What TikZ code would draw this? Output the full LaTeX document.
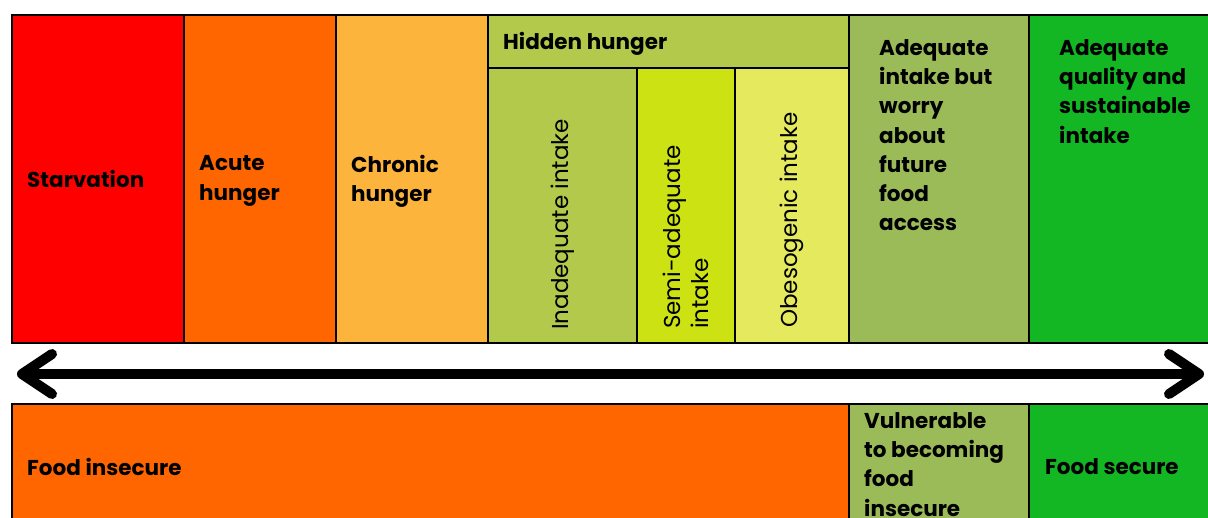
\documentclass[tikz,border=0pt]{standalone}
\usepackage{fontspec}
\setmainfont{Poppins}
\usetikzlibrary{arrows.meta,positioning}
\definecolor{starv}{HTML}{FF0000}
\definecolor{acute}{HTML}{FF6600}
\definecolor{chron}{HTML}{FDB43C}
\definecolor{hidden}{HTML}{B2C94B}
\definecolor{semi}{HTML}{CDE212}
\definecolor{obeso}{HTML}{E4E95E}
\definecolor{worry}{HTML}{9BBB59}
\definecolor{secure}{HTML}{12B723}

\begin{document}
\begin{tikzpicture}[x=1pt,y=-1pt]
\tikzstyle{cell} = [draw=black,line width=2pt,inner sep=0pt,outer sep=0pt,minimum height=328pt]
\tikzstyle{txt} = [font=\bfseries\fontsize{21.5}{29.3}\selectfont,align=left,inner sep=0pt]
\tikzstyle{vtxt} = [font=\fontsize{23}{28}\selectfont,rotate=90,align=left,inner sep=0pt,anchor=west]
\tikzstyle{scalearrow} = [line width=10pt,{Straight Barb[length=30pt,width=40pt,round]}-{Straight Barb[length=30pt,width=40pt,round]}]

\clip (0,0) rectangle (1208,517);
\fill[white] (0,0) rectangle (1208,517);

\node[cell,fill=starv,minimum width=172pt,anchor=north west] (c1) at (12,15) {};
\node[cell,fill=acute,minimum width=152pt,right=0pt of c1] (c2) {};
\node[cell,fill=chron,minimum width=152pt,right=0pt of c2] (c3) {};
\node[cell,fill=hidden,minimum width=361pt,minimum height=53pt,anchor=north west] (hh) at (c3.north east) {};
\node[cell,fill=hidden,minimum width=149pt,minimum height=275pt,anchor=north west] (c4) at (hh.south west) {};
\node[cell,fill=semi,minimum width=98pt,minimum height=275pt,right=0pt of c4] (c5) {};
\node[cell,fill=obeso,minimum width=114pt,minimum height=275pt,right=0pt of c5] (c6) {};
\node[cell,fill=worry,minimum width=180pt,anchor=north west] (c7) at (hh.north east) {};
\node[cell,fill=secure,minimum width=200pt,right=0pt of c7] (c8) {};

\node[txt,anchor=west] (starvation) at ([xshift=15pt]c1.west) {Starvation};
\node[txt,anchor=west] (acutehunger) at ([xshift=15pt,yshift=-2pt]c2.west) {Acute\\hunger};
\node[txt,anchor=west] (chronichunger) at ([xshift=15pt,yshift=-2pt]c3.west) {Chronic\\hunger};
\node[txt,anchor=west] (hiddenhunger) at ([xshift=15pt,yshift=-2pt]hh.west) {Hidden hunger};
\node[vtxt] (inadequate) at ([yshift=13pt]c4.south) {Inadequate intake};
\node[vtxt] (semiadequate) at ([yshift=14pt]c5.south) {Semi-adequate\\intake};
\node[vtxt] (obesogenic) at ([yshift=15pt]c6.south) {Obesogenic intake};
\node[txt,anchor=north west] (worrytext) at ([xshift=30pt,yshift=-24pt]c7.north west) {Adequate\\intake but\\worry\\about\\future\\food\\access};
\node[txt,anchor=north west] (qualitytext) at ([xshift=30pt,yshift=-24pt]c8.north west) {Adequate\\quality and\\sustainable\\intake};

\coordinate (left end) at (17,374);
\coordinate (right end) at (1204,374);
\draw[scalearrow] (left end) -- (right end);

\node[cell,fill=acute,minimum width=837pt,minimum height=126pt,anchor=north west] (b1) at (12,404) {};
\node[cell,fill=worry,minimum width=180pt,minimum height=126pt,right=0pt of b1] (b2) {};
\node[cell,fill=secure,minimum width=200pt,minimum height=126pt,right=0pt of b2] (b3) {};

\node[txt,anchor=west] (insecure) at ([xshift=15pt]b1.west) {Food insecure};
\node[txt,anchor=north west] (vulnerable) at ([xshift=15pt,yshift=-8pt]b2.north west) {Vulnerable\\to becoming\\food\\insecure};
\node[txt,anchor=west] (secure) at ([xshift=16pt]b3.west) {Food secure};
\end{tikzpicture}
\end{document}
